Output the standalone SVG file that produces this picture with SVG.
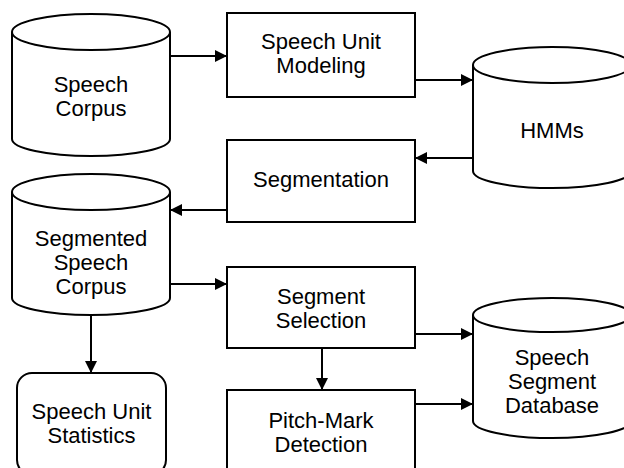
<svg xmlns="http://www.w3.org/2000/svg" width="624" height="468" viewBox="0 0 624 468">
<style>
.s{fill:#fff;stroke:#000;stroke-width:2}
.t{font-family:"Liberation Sans",Arial,sans-serif;font-size:22px;fill:#000;text-anchor:middle}
.c{fill:none;stroke:#000;stroke-width:2}
</style>
<defs>
<marker id="a" viewBox="0 0 12 12" refX="12" refY="6" markerWidth="12" markerHeight="12" markerUnits="userSpaceOnUse" orient="auto">
<path d="M0,0 L12,6 L0,12 Z" fill="#000"/>
</marker>
</defs>
<g id="connectors">
<line class="c" x1="170" y1="56" x2="227" y2="56" marker-end="url(#a)"/>
<line class="c" x1="415" y1="80" x2="473" y2="80" marker-end="url(#a)"/>
<line class="c" x1="473" y1="158" x2="415" y2="158" marker-end="url(#a)"/>
<line class="c" x1="227" y1="210" x2="170" y2="210" marker-end="url(#a)"/>
<line class="c" x1="170" y1="284" x2="227" y2="284" marker-end="url(#a)"/>
<line class="c" x1="91" y1="315" x2="91" y2="373" marker-end="url(#a)"/>
<line class="c" x1="322" y1="348" x2="322" y2="390" marker-end="url(#a)"/>
<line class="c" x1="415" y1="334" x2="473" y2="334" marker-end="url(#a)"/>
<line class="c" x1="415" y1="404" x2="473" y2="404" marker-end="url(#a)"/>
</g>
<g id="speech-corpus">
<path class="s" d="M12,32 L12,139 A79,17 0 0 0 170,139 L170,32"/>
<ellipse class="s" cx="91" cy="32" rx="79" ry="18"/>
<text class="t" x="91" y="92">Speech</text>
<text class="t" x="91" y="116">Corpus</text>
</g>
<g id="speech-unit-modeling">
<rect class="s" x="227" y="13" width="188" height="84"/>
<text class="t" x="321" y="48.5">Speech Unit</text>
<text class="t" x="321" y="72.5">Modeling</text>
</g>
<g id="hmms">
<path class="s" d="M473,65 L473,171 A79,17 0 0 0 631,171 L631,65"/>
<ellipse class="s" cx="552" cy="65" rx="79" ry="18"/>
<text class="t" x="552" y="138">HMMs</text>
</g>
<g id="segmentation">
<rect class="s" x="227" y="140" width="188" height="82"/>
<text class="t" x="321" y="187">Segmentation</text>
</g>
<g id="segmented-speech-corpus">
<path class="s" d="M12,192 L12,298 A79,17 0 0 0 170,298 L170,192"/>
<ellipse class="s" cx="91" cy="192" rx="79" ry="18"/>
<text class="t" x="91" y="246">Segmented</text>
<text class="t" x="91" y="270">Speech</text>
<text class="t" x="91" y="294">Corpus</text>
</g>
<g id="segment-selection">
<rect class="s" x="227" y="267" width="188" height="81"/>
<text class="t" x="321" y="303.5">Segment</text>
<text class="t" x="321" y="327.5">Selection</text>
</g>
<g id="pitch-mark-detection">
<rect class="s" x="227" y="390" width="188" height="90"/>
<text class="t" x="321" y="428">Pitch-Mark</text>
<text class="t" x="321" y="452">Detection</text>
</g>
<g id="speech-segment-database">
<path class="s" d="M473,315 L473,421 A79,17 0 0 0 631,421 L631,315"/>
<ellipse class="s" cx="552" cy="315" rx="79" ry="17"/>
<text class="t" x="552" y="365">Speech</text>
<text class="t" x="552" y="389">Segment</text>
<text class="t" x="552" y="413">Database</text>
</g>
<g id="speech-unit-statistics">
<rect class="s" x="17" y="373" width="149" height="102" rx="15"/>
<text class="t" x="91.5" y="419">Speech Unit</text>
<text class="t" x="91.5" y="443">Statistics</text>
</g>
</svg>
